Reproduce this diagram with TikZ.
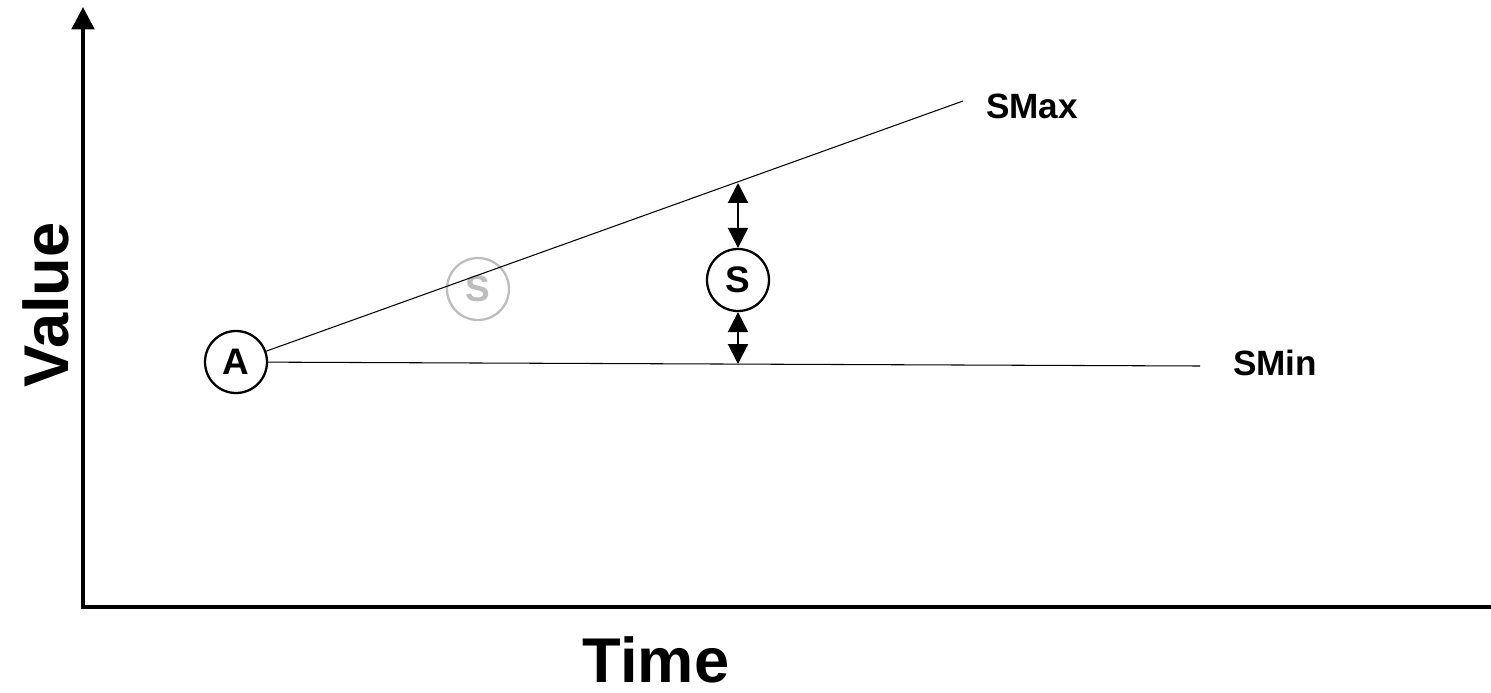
\documentclass[tikz,border=0pt]{standalone}
\usepackage{fontspec}
\setmainfont{Liberation Sans}
\usetikzlibrary{arrows.meta, positioning, calc}
\definecolor{ghostGray}{HTML}{BDBDBD}

\begin{document}
\begin{tikzpicture}[
  x=0.02cm, y=-0.02cm,
  every node/.style={font=\bfseries},
  state/.style={draw, circle, line width=1.3pt, minimum size=1.24cm,
    inner sep=0pt, font=\fontsize{21}{22}\selectfont\bfseries},
  ghost/.style={state, draw=ghostGray, text=ghostGray},
  axis/.style={line width=2.3pt},
  trend/.style={line width=0.6pt},
  gap/.style={{Triangle[length=0.4cm,width=0.4cm]}-{Triangle[length=0.4cm,width=0.4cm]}, line width=1.2pt},
  lbl/.style={font=\fontsize{20}{22}\selectfont\bfseries},
  title/.style={inner sep=0pt, font=\fontsize{36}{38}\selectfont\bfseries},
]
  \useasboundingbox (0,0) rectangle (1491,693);

  % axes
  \coordinate (origin) at (83,607);
  \coordinate (ytop) at (83,7);
  \coordinate (xend) at (1491,607);
  \draw[axis, -{Triangle[length=0.45cm,width=0.45cm]}] (origin |- 0,609) -- (ytop);
  \draw[axis] (81,607) -- (xend);
  \node[title] (time) at (656,660) {Time};
  \node[title, rotate=90] (value) at (46,305) {Value};

  % states
  \node[state] (A) at (236,362) {A};
  \node[ghost] (Sold) at (478,289) {S};
  \node[state] (S) at (738,280) {S};

  % bounds
  \coordinate (smaxEnd) at (963,101);
  \coordinate (sminEnd) at (1200,366);
  \draw[trend] (A) -- (smaxEnd);
  \draw[trend] (A) -- (sminEnd);
  \node[lbl, anchor=west] (smax) at (980,106) {SMax};
  \node[lbl, anchor=west] (smin) at (1227,363) {SMin};

  % distance to the bounds
  \coordinate (upper) at (738,183);
  \coordinate (lower) at (738,364);
  \draw[gap] (upper) -- (S.north);
  \draw[gap] (S.south) -- (lower);
\end{tikzpicture}
\end{document}
